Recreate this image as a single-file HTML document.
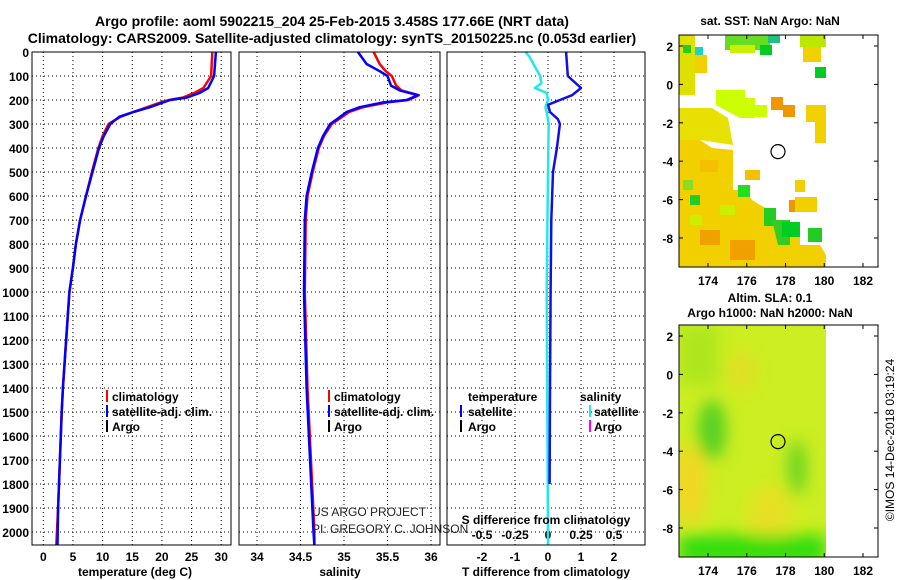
<!DOCTYPE html>
<html><head><meta charset="utf-8"><style>
body{margin:0;background:#fff;}
svg{display:block;font-family:"Liberation Sans",sans-serif;}
.b{font-weight:bold;font-size:12px;}
.t{font-weight:bold;font-size:14px;}
</style></head><body>
<svg id="s" width="900" height="580" viewBox="0 0 900 580" xmlns="http://www.w3.org/2000/svg">
<text class="t" x="332" y="26" text-anchor="middle">Argo profile: aoml 5902215_204 25-Feb-2015 3.458S 177.66E (NRT data)</text>
<text class="t" x="332" y="43" text-anchor="middle">Climatology: CARS2009. Satellite-adjusted climatology: synTS_20150225.nc (0.053d earlier)</text>
<g id="grid"></g>
<g id="series"></g>
<g id="frames"></g>
<g id="maps"></g>
</svg>
<script>
const depthTicks=[0,100,200,300,400,500,600,700,800,900,1000,1100,1200,1300,1400,1500,1600,1700,1800,1900,2000];
const tTicks=[0,5,10,15,20,25,30];
const sTicks=[34,34.5,35,35.5,36];
const dTTicks=[-2,-1,0,1,2];
const dSTickLabels=["-0.5","-0.25","0","0.25","0.5"];
const tempDepth=[0,100,150,170,190,200,210,230,250,270,300,350,400,500,600,700,800,900,1000,1400,1500,1700,1900,2055];
const tempClim=[28.5,28.3,27.0,25.5,23.5,21.2,19.8,17.5,15.2,13.0,11.0,10.0,9.3,8.2,7.2,6.2,5.5,5.0,4.4,3.3,3.1,2.8,2.5,2.2];
const tempSat=[29.1,28.8,27.8,26.4,24.2,21.4,20.2,18.0,15.2,12.8,11.3,10.2,9.4,8.3,7.2,6.2,5.5,5.0,4.4,3.3,3.1,2.8,2.5,2.4];
const salDepth=[0,50,80,100,140,160,180,200,210,230,250,280,300,350,400,500,600,700,1000,1400,2000,2055];
const salClim=[35.34,35.41,35.48,35.55,35.6,35.66,35.86,35.74,35.5,35.22,35.06,34.94,34.86,34.77,34.71,34.64,34.58,34.56,34.55,34.58,34.66,34.66];
const salSat=[35.16,35.26,35.41,35.5,35.54,35.64,35.85,35.72,35.45,35.18,35.03,34.92,34.84,34.76,34.70,34.63,34.57,34.55,34.54,34.57,34.65,34.66];
const dTDepth=[0,100,150,180,200,220,250,280,300,400,500,700,1000,1400,1800];
const dTVal=[0.55,0.6,1.0,0.73,0.36,0.0,0.06,0.3,0.36,0.27,0.15,0.1,0.08,0.06,0.05];
const dSDepth=[0,20,50,100,130,150,170,200,230,250,300,500,1000,2000,2055];
const dSVal=[-0.17,-0.14,-0.11,-0.06,-0.05,-0.1,-0.01,0,-0.02,-0.01,0.005,0,-0.01,0,0];

const NS="http://www.w3.org/2000/svg";
const top0=52,bot=545;
const yD=d=>top0+d*0.24;
const xT=t=>43.3+t*5.93;
const xS=s=>257+(s-34)*87;
const xDT=v=>548+v*33;
const xDS=v=>548+v*132;
const panels=[[32,231],[239,440],[447,645]];
function mk(tag,at,parent){const e=document.createElementNS(NS,tag);for(const k in at)e.setAttribute(k,at[k]);(parent||document.getElementById('s')).appendChild(e);return e;}
const G=document.getElementById('grid'),S=document.getElementById('series'),F=document.getElementById('frames');
depthTicks.forEach(d=>{
  panels.forEach(p=>{const l=mk('line',{x1:p[0],x2:p[1],y1:yD(d),y2:yD(d),stroke:'#000','stroke-width':1,'stroke-dasharray':'1,3'},G);
  
  });
  const t=mk('text',{x:29,y:yD(d)+5,'text-anchor':'end',class:'b'},G);t.textContent=d;
  
  
});
function vgrid(vals,fx,labels,ly){vals.forEach((v,i)=>{const x=fx(v);
  const l=mk('line',{x1:x,x2:x,y1:top0,y2:bot,stroke:'#000','stroke-width':1,'stroke-dasharray':'1,3'},G);
  
  
  const t=mk('text',{x:x,y:ly,'text-anchor':'middle',class:'b'},G);t.textContent=labels?labels[i]:v;
  
  });}
vgrid(tTicks,xT,null,561);
vgrid(sTicks,xS,null,561);
vgrid(dTTicks,xDT,null,561);
dSTickLabels.forEach((lab,i)=>{const t=mk('text',{x:xDT(dTTicks[i]),y:539,'text-anchor':'middle',class:'b'},G);t.textContent=lab;
  
  });
function line(ds,vs,fx,col,name){const pts=ds.map((d,i)=>fx(vs[i]).toFixed(1)+','+yD(d).toFixed(1)).join(' ');
  const p=mk('polyline',{points:pts,fill:'none',stroke:col,'stroke-width':2.5,'stroke-linejoin':'round'},S);
  
  }
line(tempDepth,tempClim,xT,'#ff0000','temperature-climatology-line');
line(tempDepth,tempSat,xT,'#0000ff','temperature-satellite-line');
line(salDepth,salClim,xS,'#ff0000','salinity-climatology-line');
line(salDepth,salSat,xS,'#0000ff','salinity-satellite-line');
line(dSDepth,dSVal,xDS,'#22e8ee','salinity-diff-line');
line(dTDepth,dTVal,xDT,'#1010e0','temperature-diff-line');
panels.forEach(p=>{const r=mk('rect',{x:p[0],y:top0,width:p[1]-p[0],height:bot-top0,fill:'none',stroke:'#000','stroke-width':1},F);
  
  });
</script>
<script>
(function(){
const NS="http://www.w3.org/2000/svg",s=document.getElementById('s');
function add(html){const g=document.createElementNS(NS,'g');g.innerHTML=html;s.appendChild(g);}
add(`
<text class="b" x="135" y="576" text-anchor="middle">temperature (deg C)</text>
<text class="b" x="340" y="576" text-anchor="middle">salinity</text>
<text class="b" x="546" y="576" text-anchor="middle">T difference from climatology</text>
<text class="b" x="546" y="524" text-anchor="middle">S difference from climatology</text>
<g class="b">
<rect x="106" y="390" width="2" height="12" fill="#f00"/><text x="112" y="401">climatology</text>
<rect x="106" y="405" width="2" height="12" fill="#00f"/><text x="112" y="416">satellite-adj. clim.</text>
<rect x="106" y="420" width="2" height="12" fill="#000"/><text x="112" y="431">Argo</text></g>
<g class="b">
<rect x="328" y="390" width="2" height="12" fill="#f00"/><text x="334" y="401">climatology</text>
<rect x="328" y="405" width="2" height="12" fill="#00f"/><text x="334" y="416">satellite-adj. clim.</text>
<rect x="328" y="420" width="2" height="12" fill="#000"/><text x="334" y="431">Argo</text></g>
<g class="b">
<text x="468" y="401">temperature</text><text x="580" y="401">salinity</text>
<rect x="460" y="405" width="2" height="12" fill="#00f"/><text x="468" y="416">satellite</text>
<rect x="460" y="420" width="2" height="12" fill="#000"/><text x="468" y="431">Argo</text>
<rect x="589" y="405" width="2" height="12" fill="#22e8ee"/><text x="594" y="416">satellite</text>
<rect x="589" y="420" width="2" height="12" fill="#f0f"/><text x="594" y="431">Argo</text></g>
<text x="312" y="516" font-size="12" fill="#222">US ARGO PROJECT</text>
<text x="312" y="533" font-size="12" fill="#222">PI: GREGORY C. JOHNSON</text>
<text x="894" y="440" font-size="12" text-anchor="middle" transform="rotate(-90 894 440)">©IMOS 14-Dec-2018 03:19:24</text>
`);
const lonTicks=[174,176,178,180,182],latTicks=[2,0,-2,-4,-6,-8];
const xL=l=>708+(l-174)*19.375;
function mapAxes(y0,name){
  const yl=l=>y0+11+(2-l)*19.2;
  let h=`<rect x="679" y="${y0}" width="199" height="232" fill="none" stroke="#000"/>`;
  lonTicks.forEach(l=>{h+=`<line x1="${xL(l)}" x2="${xL(l)}" y1="${y0+232}" y2="${y0+228}" stroke="#000"/><line x1="${xL(l)}" x2="${xL(l)}" y1="${y0}" y2="${y0+4}" stroke="#000"/><text class="b" x="${xL(l)}" y="${y0+250}" text-anchor="middle">${l}</text>`;});
  latTicks.forEach(l=>{h+=`<line x1="679" x2="683" y1="${yl(l)}" y2="${yl(l)}" stroke="#000"/><line x1="874" x2="878" y1="${yl(l)}" y2="${yl(l)}" stroke="#000"/><text class="b" x="673" y="${yl(l)+5}" text-anchor="end">${l}</text>`;});
  h+=`<circle cx="778" cy="${yl(-3.5)}" r="7" fill="none" stroke="#000" stroke-width="1.2"/>`;
  return h;}
add(`
<text class="b" x="770" y="25" text-anchor="middle">sat. SST: NaN Argo: NaN</text>
<g>
<polygon fill="#f2d000" points="679,140 700,140 712,148 733,150 733,190 745,190 752,200 760,205 770,210 770,225 800,225 800,245 820,245 826,255 826,267 679,267"/>
<polygon fill="#e8e000" points="679,108 712,108 728,118 733,145 700,140 679,140"/>
<rect x="679" y="35" width="16" height="60" fill="#e0e000"/>
<rect x="695" y="55" width="12" height="18" fill="#f2d000"/>
<rect x="683" y="45" width="8" height="8" fill="#22cc22"/><rect x="695" y="47" width="8" height="8" fill="#20d0c0"/>
<rect x="725" y="35" width="45" height="15" fill="#66dd22"/><rect x="730" y="45" width="25" height="8" fill="#ccee00"/>
<rect x="760" y="45" width="12" height="10" fill="#00cc22"/><rect x="768" y="35" width="12" height="8" fill="#20c080"/>
<rect x="800" y="35" width="26" height="12" fill="#bbe800"/><rect x="803" y="47" width="18" height="15" fill="#f2d000"/>
<rect x="815" y="67" width="11" height="11" fill="#00cc22"/>
<polygon fill="#ccff00" points="716,90 745,90 745,98 755,98 755,118 740,118 716,105"/>
<rect x="745" y="105" width="22" height="12" fill="#ccff00"/>
<rect x="771" y="97" width="12" height="13" fill="#f09600"/><rect x="783" y="105" width="12" height="12" fill="#f09600"/>
<polygon fill="#f2d000" points="806,105 826,105 826,143 815,143 815,122 806,122"/>
<rect x="789" y="200" width="16" height="12" fill="#f09600"/><rect x="795" y="197" width="22" height="15" fill="#f2d000"/>
<rect x="795" y="180" width="10" height="12" fill="#f2d000"/>
<rect x="764" y="208" width="12" height="18" fill="#22cc22"/>
<polygon fill="#33cc22" points="772,220 790,220 790,245 778,245"/>
<rect x="782" y="222" width="18" height="15" fill="#00cc22"/>
<rect x="808" y="228" width="14" height="14" fill="#22cc22"/>
<rect x="738" y="185" width="12" height="12" fill="#22dd22"/>
<rect x="683" y="180" width="10" height="10" fill="#88dd22"/><rect x="690" y="195" width="10" height="10" fill="#22cc22"/>
<rect x="700" y="230" width="20" height="15" fill="#f0a000"/><rect x="730" y="240" width="25" height="20" fill="#f0a000"/>
<rect x="720" y="205" width="15" height="10" fill="#ccee00"/><rect x="690" y="215" width="12" height="10" fill="#ccee00"/>
<rect x="700" y="160" width="18" height="12" fill="#f5c000"/><rect x="745" y="170" width="15" height="10" fill="#f5c000"/>
</g>
${mapAxes(35,'sst-map')}
<text class="b" x="770" y="302" text-anchor="middle">Altim. SLA: 0.1</text>
<text class="b" x="770" y="317" text-anchor="middle">Argo h1000: NaN h2000: NaN</text>
<defs>
<filter id="bl" x="-50%" y="-50%" width="200%" height="200%"><feGaussianBlur stdDeviation="8"/></filter>
<clipPath id="mc"><rect x="679" y="325" width="147" height="232"/></clipPath>
</defs>
<g clip-path="url(#mc)">
<rect x="679" y="325" width="147" height="232" fill="#ccee22"/>
<g filter="url(#bl)">
<rect x="679" y="325" width="40" height="60" fill="#aee61e"/>
<ellipse cx="690" cy="485" rx="18" ry="40" fill="#f0d820"/>
<ellipse cx="742" cy="372" rx="15" ry="20" fill="#e0e020"/>
<ellipse cx="770" cy="515" rx="22" ry="30" fill="#e6e020"/>
<ellipse cx="712" cy="430" rx="14" ry="30" fill="#55d022"/>
<ellipse cx="797" cy="468" rx="9" ry="28" fill="#66d422"/>
<rect x="679" y="535" width="147" height="30" fill="#33dd11"/>
</g>
</g>
${mapAxes(325,'sla-map')}
`);
})();
</script>
</body></html>
